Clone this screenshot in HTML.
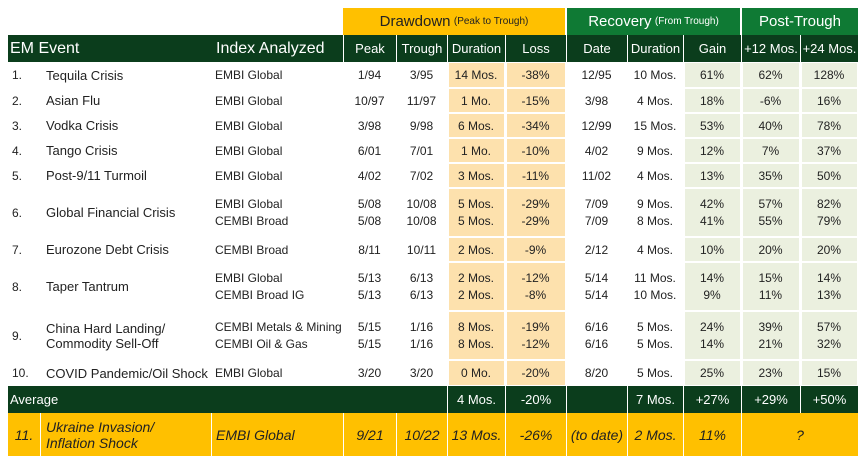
<!DOCTYPE html>
<html><head><meta charset="utf-8"><style>
body{margin:0;width:868px;height:461px;background:#fff;overflow:hidden;font-family:"Liberation Sans Narrow","Liberation Sans",sans-serif;}
#t{position:relative;width:868px;height:461px;}
.c{position:absolute;box-sizing:border-box;display:flex;align-items:center;justify-content:center;white-space:nowrap;font-size:12px;color:#222;}
.l{justify-content:flex-start;}
</style></head><body>
<div id="t"></div>
<script>
const colX=[8,212,343,396,447,505,566,627,683,741,800,858];
const eventNames=[["Tequila Crisis"],["Asian Flu"],["Vodka Crisis"],["Tango Crisis"],["Post-9/11 Turmoil"],["Global Financial Crisis"],["Eurozone Debt Crisis"],["Taper Tantrum"],["China Hard Landing/","Commodity Sell-Off"],["COVID Pandemic/Oil Shock"]];
const rowTops=[62,88,113,138,163,188,237,262,311,360,386];
const subRows=[
[["EMBI Global","1/94","3/95","14 Mos.","-38%","12/95","10 Mos.","61%","62%","128%"]],
[["EMBI Global","10/97","11/97","1 Mo.","-15%","3/98","4 Mos.","18%","-6%","16%"]],
[["EMBI Global","3/98","9/98","6 Mos.","-34%","12/99","15 Mos.","53%","40%","78%"]],
[["EMBI Global","6/01","7/01","1 Mo.","-10%","4/02","9 Mos.","12%","7%","37%"]],
[["EMBI Global","4/02","7/02","3 Mos.","-11%","11/02","4 Mos.","13%","35%","50%"]],
[["EMBI Global","5/08","10/08","5 Mos.","-29%","7/09","9 Mos.","42%","57%","82%"],["CEMBI Broad","5/08","10/08","5 Mos.","-29%","7/09","8 Mos.","41%","55%","79%"]],
[["CEMBI Broad","8/11","10/11","2 Mos.","-9%","2/12","4 Mos.","10%","20%","20%"]],
[["EMBI Global","5/13","6/13","2 Mos.","-12%","5/14","11 Mos.","14%","15%","14%"],["CEMBI Broad IG","5/13","6/13","2 Mos.","-8%","5/14","10 Mos.","9%","11%","13%"]],
[["CEMBI Metals & Mining","5/15","1/16","8 Mos.","-19%","6/16","5 Mos.","24%","39%","57%"],["CEMBI Oil & Gas","5/15","1/16","8 Mos.","-12%","6/16","5 Mos.","14%","21%","32%"]],
[["EMBI Global","3/20","3/20","0 Mo.","-20%","8/20","5 Mos.","25%","23%","15%"]]];
const averages=["4 Mos.","-20%","","7 Mos.","+27%","+29%","+50%"];
const ukraine=["EMBI Global","9/21","10/22","13 Mos.","-26%","(to date)","2 Mos.","11%","?"];
const colHeads=["Peak","Trough","Duration","Loss","Date","Duration","Gain","+12 Mos.","+24 Mos."];
const T=document.getElementById('t');
function box(x,y,w,h,bg,html,cls,name){
 const d=document.createElement('div');
 d.className='c '+(cls||'');
 d.style.left=x+'px';d.style.top=y+'px';d.style.width=w+'px';d.style.height=h+'px';
 if(bg)d.style.background=bg;
 d.innerHTML=html;
 
 
 T.appendChild(d);return d;
}
const DG='#0b3d1c',MG='#0f7a34',GOLD='#ffc000',OR='#fde1ad',LG='#ebf0df';
// group headers
let g=box(colX[3]-53,8,colX[6]-colX[3]+53-1,27,GOLD,'<span style="font-size:15px">Drawdown</span>&nbsp;<span style="font-size:10px">(Peak to Trough)</span>','','drawdown-header');g.style.color='#222';
g=box(colX[6]+1,8,colX[9]-colX[6]-2,27,MG,'<span style="font-size:15px">Recovery</span>&nbsp;<span style="font-size:10px">(From Trough)</span>','','recovery-header');g.style.color='#fff';
g=box(colX[9]+1,8,colX[11]-colX[9]-1,27,MG,'<span style="font-size:15px">Post-Trough</span>','','post-trough-header');g.style.color='#fff';
// column header row
box(8,35,850,27,DG,'','','column-header-row');
g=box(10,35,200,27,null,'EM Event','l','em-event-header');g.style.color='#fff';g.style.fontSize='16px';
g=box(216,35,125,27,null,'Index Analyzed','l','index-header');g.style.color='#fff';g.style.fontSize='16px';
for(let i=0;i<9;i++){g=box(colX[i+2],35,colX[i+3]-colX[i+2],27,null,colHeads[i],'','col-header-'+i);g.style.color='#fff';g.style.fontSize='13px';g.style.borderLeft='1px solid #fff';}
// body rows
for(let r=0;r<10;r++){
 const top=rowTops[r],h=rowTops[r+1]-top,sub=subRows[r],n=sub.length;
 for(const c of [5,6,9,10,11]){const bg=c<7?OR:LG;box(colX[c-1]+2,top+1,colX[c]-colX[c-1]-3,h-2,bg,'','','fill-'+r+'-'+c);}
 box(12,top,30,h,null,(r+1)+'.','l','event-number');
 box(46,top,165,h,null,eventNames[r].join('<br>'),'l','event-name').style.fontSize='13px';
 const sh=n==1?h:17,sy=n==1?top:top+(h-34)/2;
 sub.forEach((s,k)=>{
  box(215,sy+k*sh,128,sh,null,s[0],'l','index-name');
  for(let c=1;c<10;c++)box(colX[c+1],sy+k*sh,colX[c+2]-colX[c+1],sh,null,s[c],'','cell-'+r+'-'+c);
 });
}
// average
box(8,386,850,27,DG,'','','average-row');
g=box(10,386,150,27,null,'Average','l','average-label');g.style.color='#fff';g.style.fontSize='13px';
for(let i=0;i<7;i++){g=box(colX[i+4],386,colX[i+5]-colX[i+4],27,null,averages[i],'','average-'+i);g.style.color='#fff';g.style.fontSize='13px';g.style.borderLeft='1px solid #fff';}
// ukraine row
box(8,413,850,43,GOLD,'','','ukraine-row');
const it='font-style:italic;font-size:14px';
g=box(8,413,33,43,null,'11.','','ukraine-number');g.style.cssText+=it;g.style.borderRight='1px solid #fff';
g=box(46,413,165,43,null,'Ukraine Invasion/<br>Inflation Shock','l','ukraine-event');g.style.cssText+=it;g.style.borderRight='1px solid #fff';g.style.width='166px';
g=box(216,413,127,43,null,ukraine[0],'l','ukraine-index');g.style.cssText+=it;
for(let c=1;c<8;c++){g=box(colX[c+1],413,colX[c+2]-colX[c+1],43,null,ukraine[c],'','ukraine-'+c);g.style.cssText+=it;g.style.borderLeft='1px solid #fff';}
g=box(colX[9],413,colX[11]-colX[9],43,null,ukraine[8],'','ukraine-post');g.style.cssText+=it;g.style.borderLeft='1px solid #fff';
</script>
</body></html>
